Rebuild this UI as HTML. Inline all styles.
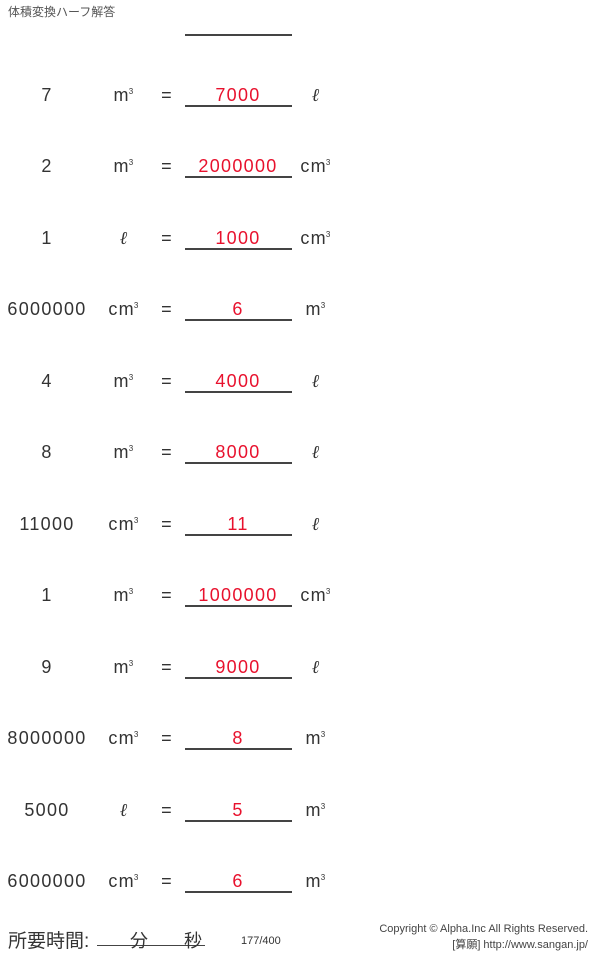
<!DOCTYPE html>
<html><head><meta charset="utf-8"><style>
body{margin:0;width:600px;height:954px;background:#fff;position:relative;font-family:"Liberation Sans","Noto Sans CJK JP",sans-serif;color:#333;overflow:hidden}
.a{position:absolute;transform:translate(-50%,-50%);white-space:nowrap;font-size:18px;line-height:20px;letter-spacing:1.3px}
.r{color:#e8112d}
.u{position:absolute;left:185px;width:107px;height:0;border-top:2px solid #444}
sup{font-size:8px;position:relative;top:-3px;vertical-align:top;margin-left:-1px}
.l{font-family:"Liberation Serif",serif;font-style:italic}
</style></head><body>
<div style="position:absolute;left:8px;top:3px;font-size:12px;color:#555">体積変換ハーフ解答</div>
<div class="u" style="top:34px"></div>
<div id="rows"></div>
<div style="position:absolute;left:8px;top:926px;font-size:19px;color:#333">所要時間:</div>
<div style="position:absolute;left:97px;top:945px;width:108px;border-top:1px solid #444"></div>
<div style="position:absolute;left:130px;top:927px;font-size:18px;color:#333">分</div>
<div style="position:absolute;left:184px;top:927px;font-size:18px;color:#333">秒</div>
<div style="position:absolute;left:241px;top:935px;font-size:11px;color:#333">177/400</div>
<div style="position:absolute;right:12px;top:921px;font-size:11px;color:#444;text-align:right;line-height:16px">Copyright © Alpha.Inc All Rights Reserved.<br>[算願] http://www.sangan.jp/</div>
<script>
var d=[["7","m3","7000","l"],["2","m3","2000000","cm3"],["1","l","1000","cm3"],["6000000","cm3","6","m3"],["4","m3","4000","l"],["8","m3","8000","l"],["11000","cm3","11","l"],["1","m3","1000000","cm3"],["9","m3","9000","l"],["8000000","cm3","8","m3"],["5000","l","5","m3"],["6000000","cm3","6","m3"]];
function u(s){if(s=="l")return '<span class="l">ℓ</span>';return s.replace("3","")+"<sup>3</sup>";}
var h="";
d.forEach(function(r,i){var y=95+i*71.45;
h+='<div class="a" style="left:47px;top:'+y+'px">'+r[0]+'</div>';
h+='<div class="a" style="left:124px;top:'+y+'px">'+u(r[1])+'</div>';
h+='<div class="a" style="left:167px;top:'+y+'px">=</div>';
h+='<div class="a r" style="left:238px;top:'+y+'px">'+r[2]+'</div>';
h+='<div class="a" style="left:316px;top:'+y+'px">'+u(r[3])+'</div>';
h+='<div class="u" style="top:'+(y+10)+'px"></div>';});
document.getElementById("rows").innerHTML=h;
</script>
</body></html>
